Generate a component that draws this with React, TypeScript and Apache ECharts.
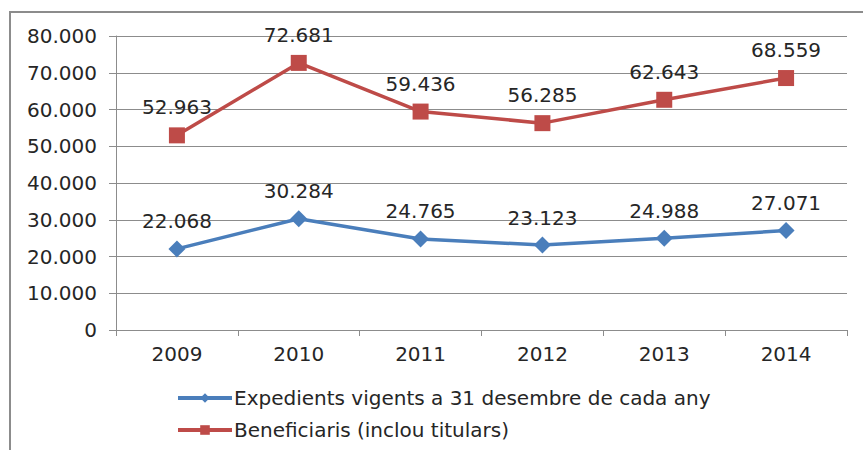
import React, { useEffect, useRef } from "react";
import * as echarts from "echarts";

const years = ["2009", "2010", "2011", "2012", "2013", "2014"];
const expedients = [22068, 30284, 24765, 23123, 24988, 27071];
const beneficiaris = [52963, 72681, 59436, 56285, 62643, 68559];
const seriesNames = [
  "Expedients vigents a 31 desembre de cada any",
  "Beneficiaris (inclou titulars)",
];

const fmt = (v: number) => {
  if (v === 0) return "0";
  const s = String(Math.round(v));
  return s.replace(/\B(?=(\d{3})+(?!\d))/g, ".");
};

const FONT = "DejaVu Sans, Verdana, sans-serif";
const FS = 20;

export default function App() {
  const ref = useRef<HTMLDivElement>(null);
  useEffect(() => {
    if (!ref.current) return;
    const chart = echarts.init(ref.current, null, { renderer: "svg" });
    chart.setOption({
      animation: false,
      backgroundColor: "#ffffff",
      textStyle: { fontFamily: FONT },
      graphic: [
        {
          type: "rect",
          shape: { x: 10, y: 12, width: 880, height: 480 },
          style: { fill: "none", stroke: "#8c8c8c", lineWidth: 2 },
          silent: true,
          z: -1,
        },
      ],
      grid: { left: 116, right: 16, top: 36, height: 294 },
      xAxis: {
        type: "category",
        data: years,
        boundaryGap: true,
        axisLine: { lineStyle: { color: "#8c8c8c", width: 1 } },
        axisTick: { show: true, length: 6, lineStyle: { color: "#8c8c8c" } },
        axisLabel: { color: "#262626", fontSize: FS, fontFamily: FONT, margin: 14 },
      },
      yAxis: {
        type: "value",
        min: 0,
        max: 80000,
        interval: 10000,
        axisLine: { show: true, lineStyle: { color: "#8c8c8c", width: 1 } },
        axisTick: { show: true, length: 7, lineStyle: { color: "#8c8c8c" } },
        splitLine: { lineStyle: { color: "#8c8c8c", width: 1 } },
        axisLabel: {
          color: "#262626",
          fontSize: FS,
          fontFamily: FONT,
          margin: 19,
          formatter: (v: number) => fmt(v),
        },
      },
      legend: {
        orient: "vertical",
        left: 171,
        top: 383,
        itemWidth: 54,
        itemHeight: 12,
        itemGap: 12,
        lineStyle: { width: 4 },
        textStyle: { color: "#262626", fontSize: FS, fontFamily: FONT, padding: [0, 0, 0, -3] },
        data: [
          { name: seriesNames[0], itemStyle: { color: "#4a7ebb" } },
          { name: seriesNames[1], itemStyle: { color: "#be4b48" } },
        ],
      },
      series: [
        {
          name: seriesNames[0],
          type: "line",
          data: expedients,
          color: "#4a7ebb",
          symbol: "diamond",
          symbolSize: 17,
          lineStyle: { width: 3.5, color: "#4a7ebb" },
          itemStyle: { color: "#4a7ebb" },
          label: {
            show: true,
            position: "top",
            distance: 9,
            color: "#262626",
            fontSize: FS,
            fontFamily: FONT,
            formatter: (p: any) => fmt(p.value),
          },
        },
        {
          name: seriesNames[1],
          type: "line",
          data: beneficiaris,
          color: "#be4b48",
          symbol: "rect",
          symbolSize: 16,
          lineStyle: { width: 3.5, color: "#be4b48" },
          itemStyle: { color: "#be4b48" },
          label: {
            show: true,
            position: "top",
            distance: 10,
            color: "#262626",
            fontSize: FS,
            fontFamily: FONT,
            formatter: (p: any) => fmt(p.value),
          },
        },
      ],
    });
    return () => chart.dispose();
  }, []);
  return (
    <div
      ref={ref}
      style={{ position: "fixed", left: 0, top: 0, width: 863, height: 450, background: "#fff" }}
    />
  );
}
